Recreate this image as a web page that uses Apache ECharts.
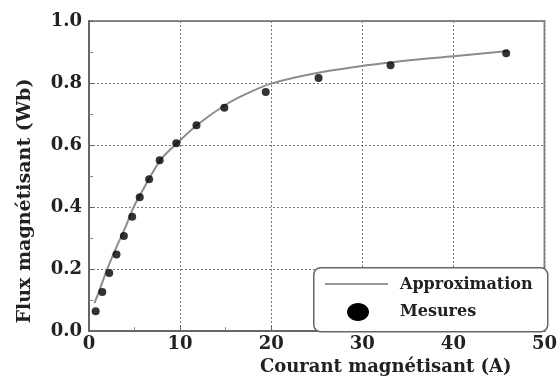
<!DOCTYPE html>
<html><head><meta charset="utf-8">
<script src="https://cdn.jsdelivr.net/npm/echarts@6/dist/echarts.min.js"></script>
<style>html,body{margin:0;padding:0;background:#fff}#c{width:560px;height:381px}</style>
</head><body><div id="c"></div>
<script>
// Measured points (courant A, flux Wb)
const mesuresX = [0.73, 1.46, 2.22, 3.02, 3.83, 4.74, 5.57, 6.6, 7.76, 9.58, 11.8, 14.86, 19.4, 25.2, 33.1, 45.8];
const mesuresY = [0.064, 0.126, 0.187, 0.247, 0.307, 0.369, 0.432, 0.49, 0.551, 0.606, 0.664, 0.72, 0.771, 0.816, 0.857, 0.896];
// Approximation curve
const approxX = [0.6, 1, 2, 3, 4, 4.9, 6, 7, 8, 9.8, 12, 15, 17.5, 20, 25, 30, 33, 36, 40, 46];
const approxY = [0.09, 0.12, 0.2, 0.27, 0.335, 0.4, 0.46, 0.512, 0.558, 0.61, 0.668, 0.73, 0.768, 0.798, 0.832, 0.855, 0.866, 0.876, 0.886, 0.903];
const xTicks = [0, 10, 20, 30, 40, 50];
const yTicks = [0.0, 0.2, 0.4, 0.6, 0.8, 1.0];
const legendNames = ['Approximation', 'Mesures'];

const font = '"DejaVu Serif", "Liberation Serif", serif';
const txt = '#222';
const chart = echarts.init(document.getElementById('c'), null, {renderer: 'canvas'});
chart.setOption({
  animation: false,
  backgroundColor: '#fff',
  grid: {left: 89, right: 13, top: 21, bottom: 48, show: true, borderColor: '#8a8a8a', borderWidth: 2, backgroundColor: 'transparent'},
  xAxis: {
    type: 'value', min: xTicks[0], max: xTicks[xTicks.length - 1], interval: 10,
    name: 'Courant magnétisant (A)', nameLocation: 'middle', nameGap: 25,
    nameTextStyle: {fontFamily: font, fontWeight: 'bold', fontSize: 18, color: txt, padding: [0, 0, 0, 138]},
    axisLine: {show: true, lineStyle: {color: '#666', width: 2}},
    axisTick: {show: true, inside: true, length: 5, lineStyle: {color: '#666'}},
    minorTick: {show: true, splitNumber: 2, length: 4, lineStyle: {color: '#888'}},
    axisLabel: {fontFamily: font, fontWeight: 'bold', fontSize: 18, color: txt, margin: 4,
      formatter: v => xTicks.includes(v) ? String(v) : ''},
    splitLine: {show: true, lineStyle: {color: '#777', type: [2, 2], width: 1}}
  },
  yAxis: {
    type: 'value', min: yTicks[0], max: yTicks[yTicks.length - 1], interval: 0.2,
    name: 'Flux magnétisant (Wb)', nameLocation: 'middle', nameGap: 54, nameRotate: 90,
    nameTextStyle: {fontFamily: font, fontWeight: 'bold', fontSize: 19, color: txt, padding: [0, 50, 0, 0]},
    axisLine: {show: true, lineStyle: {color: '#666', width: 2}},
    axisTick: {show: true, inside: true, length: 5, lineStyle: {color: '#666'}},
    minorTick: {show: true, splitNumber: 2, length: 4, lineStyle: {color: '#888'}},
    axisLabel: {fontFamily: font, fontWeight: 'bold', fontSize: 18, color: txt, margin: 7,
      formatter: v => v.toFixed(1)},
    splitLine: {show: true, lineStyle: {color: '#777', type: [2, 2], width: 1}}
  },
  legend: {show: false},
  graphic: [
    {type: 'rect', left: 313, top: 267, shape: {width: 234, height: 64, r: 7},
      style: {fill: '#fff', stroke: '#666', lineWidth: 1.5}, z: 100},
    {type: 'line', shape: {x1: 325, y1: 284, x2: 388, y2: 284},
      style: {stroke: '#999', lineWidth: 2}, z: 101},
    {type: 'ellipse', shape: {cx: 358, cy: 312, rx: 11, ry: 9},
      style: {fill: '#000'}, z: 101},
    {type: 'text', x: 400, y: 285, style: {text: legendNames[0], font: 'bold 16px ' + font, fill: txt, verticalAlign: 'middle'}, z: 101},
    {type: 'text', x: 400, y: 312, style: {text: legendNames[1], font: 'bold 16px ' + font, fill: txt, verticalAlign: 'middle'}, z: 101}
  ],
  series: [
    {
      name: legendNames[0], type: 'line', smooth: 0.3, symbol: 'none', showSymbol: false,
      lineStyle: {color: '#8c8c8c', width: 2}, itemStyle: {color: '#8c8c8c'},
      data: approxX.map((x, i) => [x, approxY[i]]), z: 2
    },
    {
      name: legendNames[1], type: 'scatter', symbol: 'circle', symbolSize: 8,
      itemStyle: {color: '#000'},
      data: mesuresX.map((x, i) => [x, mesuresY[i]]), z: 3
    }
  ]
});
</script></body></html>
